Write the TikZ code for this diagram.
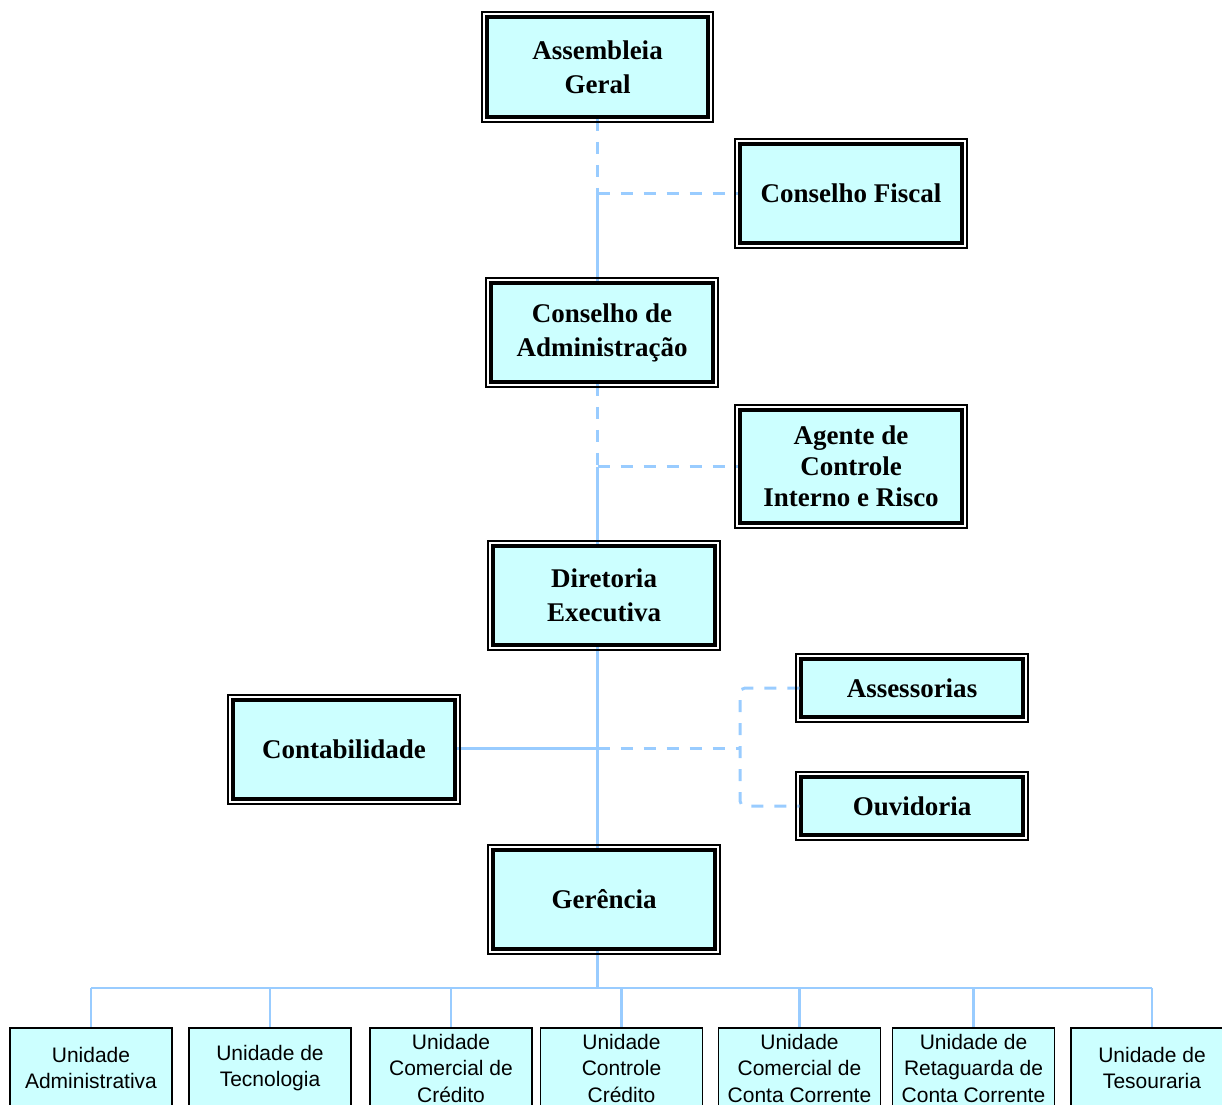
\documentclass[tikz,border=0pt]{standalone}
\usepackage{fontspec}
\setmainfont{Liberation Serif}
\setsansfont{Liberation Sans}
\usetikzlibrary{calc}
\definecolor{boxfill}{HTML}{CCFFFF}
\definecolor{conn}{HTML}{99CCFF}
\begin{document}
\begin{tikzpicture}[x=1pt,y=-1pt,
  mainbox/.style={draw=black, line width=3.5pt, fill=boxfill, minimum width=221pt, minimum height=100pt, align=center, inner sep=0pt, font=\fontsize{27}{34}\selectfont\bfseries},
  unitbox/.style={draw=black, line width=1.5pt, fill=boxfill, minimum width=162pt, minimum height=80pt, align=center, inner sep=0pt, font=\sffamily\fontsize{21}{26.5}\selectfont},
  link/.style={draw=conn, line width=3pt},
  blink/.style={draw=conn, line width=2.5pt},
  dlink/.style={link, dash pattern=on 12pt off 11pt},
  frame/.style={draw=black, line width=2pt},
]
\useasboundingbox (0,0) rectangle (1222,1104);
\begin{scope}
\clip (0,0) rectangle (1222,1104);
% main boxes
\node[mainbox] (ag) at (597.5,67) {Assembleia\\Geral};
\node[mainbox, minimum width=222pt, minimum height=99pt] (cf) at (851,193.5) {Conselho Fiscal};
\node[mainbox, minimum width=222pt, minimum height=99pt] (ca) at (602,332.5) {Conselho de\\Administração};
\node[mainbox, minimum width=222pt, minimum height=113pt, font=\fontsize{27}{31}\selectfont\bfseries] (ac) at (851,466.5) {Agente de\\Controle\\Interno e Risco};
\node[mainbox, minimum width=222pt, minimum height=99pt] (di) at (604,595.5) {Diretoria\\Executiva};
\node[mainbox, minimum width=222pt, minimum height=99pt] (co) at (344,749.5) {Contabilidade};
\node[mainbox, minimum width=222pt, minimum height=58pt] (as) at (912,688) {Assessorias};
\node[mainbox, minimum width=222pt, minimum height=58pt] (ou) at (912,806) {Ouvidoria};
\node[mainbox, minimum width=222pt, minimum height=99pt] (ge) at (604,899.5) {Gerência};
% unit boxes
\node[unitbox] (u1) at (91,1068) {Unidade\\Administrativa};
\node[unitbox] (u2) at (270,1068) {Unidade de\\Tecnologia};
\node[unitbox] (u3) at (451,1068) {Unidade\\Comercial de\\Crédito};
\node[unitbox] (u4) at (621.5,1068) {Unidade\\Controle\\Crédito};
\node[unitbox] (u5) at (799.5,1068) {Unidade\\Comercial de\\Conta Corrente};
\node[unitbox] (u6) at (973.5,1068) {Unidade de\\Retaguarda de\\Conta Corrente};
\node[unitbox] (u7) at (1152,1068) {Unidade de\\Tesouraria};
% connectors
\draw[dlink] (ag.south) -- (ag.south |- cf.west);
\draw[link] (ag.south |- cf.west) -- (ag.south |- ca.north);
\draw[dlink] (ag.south |- cf.west) -- (cf.west);
\draw[dlink] (ag.south |- ca.south) -- (ag.south |- ac.west);
\draw[link] (ag.south |- ac.west) -- (ag.south |- di.north);
\draw[dlink] (ag.south |- ac.west) -- (ac.west);
\draw[link] (ag.south |- di.south) -- (ag.south |- ge.north);
\coordinate (jn) at (740,748);
\draw[link] (co.east |- jn) -- (ag.south |- jn);
\draw[dlink] (ag.south |- jn) -- (jn);
\draw[dlink, rounded corners=5pt] (as.west) -- (as.west -| jn) -- (ou.west -| jn) -- (ou.west);
\coordinate (bus) at (597.5,988);
\draw[link] (ag.south |- ge.south) -- (bus);
\draw[blink] (u1.north |- bus) -- (u7.north |- bus);
\foreach \u in {u1,u2,u3,u4,u5,u6,u7} \draw[blink] (\u.north |- bus) -- (\u.north);
% outer frames of main boxes
\foreach \n in {ag,cf,ca,ac,di,co,as,ou,ge}
  \draw[frame] ($(\n.north west)+(-3.5,-3.5)$) rectangle ($(\n.south east)+(3.5,3.5)$);
\end{scope}
\end{tikzpicture}
\end{document}
